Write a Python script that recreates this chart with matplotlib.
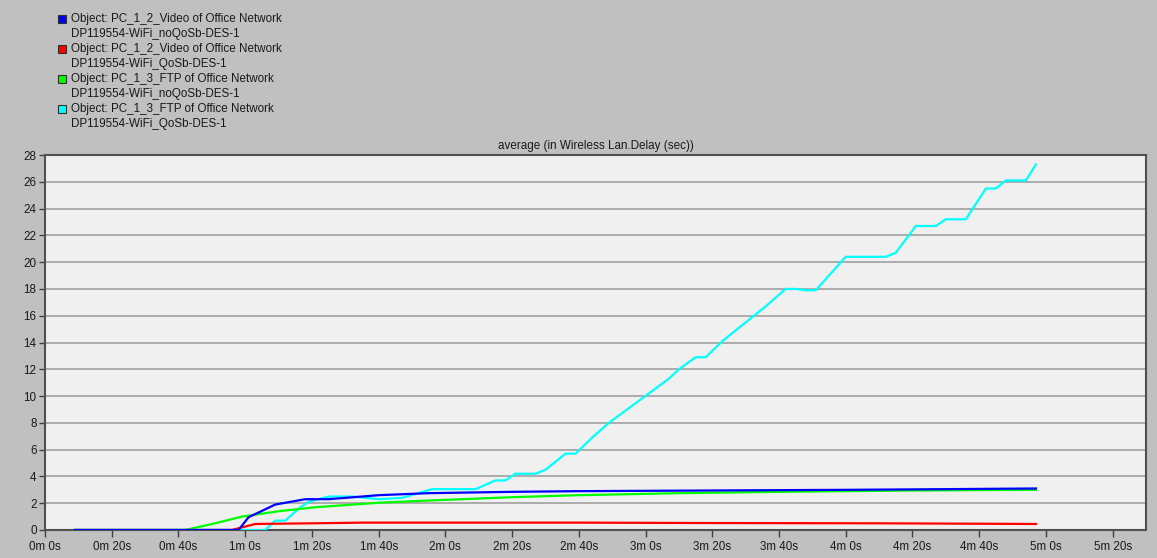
import matplotlib
matplotlib.use("Agg")
import matplotlib.pyplot as plt
from matplotlib.patches import Rectangle

plt.rcParams['font.family'] = ['Liberation Sans', 'DejaVu Sans']

# ---- data (time in seconds, delay in seconds) ----
video_noqos_t = [9, 58, 61, 69, 78, 85, 100, 115, 140, 160, 200, 240, 270, 297]
video_noqos_v = [0, 0, 0.95, 1.9, 2.3, 2.3, 2.6, 2.75, 2.85, 2.9, 2.95, 3.0, 3.05, 3.1]

video_qos_t = [9, 56, 63, 80, 95, 130, 160, 200, 250, 297]
video_qos_v = [0, 0, 0.45, 0.5, 0.55, 0.55, 0.55, 0.52, 0.5, 0.45]

ftp_noqos_t = [9, 42, 51, 59, 70, 81, 101, 115, 140, 160, 190, 220, 260, 297]
ftp_noqos_v = [0, 0, 0.5, 1.0, 1.4, 1.7, 2.05, 2.2, 2.45, 2.6, 2.75, 2.85, 2.95, 3.0]

ftp_qos_t = [9, 66, 69, 72, 76, 79, 85, 92, 100, 107, 116, 129, 135, 138, 141, 147,
             150, 156, 159, 164, 169, 187, 190, 195, 198, 203, 213, 216, 222, 225,
             228, 231, 240, 252, 255, 261, 267, 270, 276, 282, 285, 288, 294, 297]
ftp_qos_v = [0, 0, 0.7, 0.7, 1.6, 2.1, 2.5, 2.5, 2.3, 2.4, 3.05, 3.05, 3.7, 3.7, 4.2, 4.2,
             4.5, 5.7, 5.7, 6.9, 8.0, 11.3, 12.0, 12.9, 12.9, 14.1, 16.1, 16.7, 18.0, 18.0,
             17.9, 17.9, 20.4, 20.4, 20.7, 22.7, 22.7, 23.2, 23.2, 25.5, 25.5, 26.1, 26.1, 27.3]

legend_labels = [
    ("Object: PC_1_2_Video of Office Network", "DP119554-WiFi_noQoSb-DES-1"),
    ("Object: PC_1_2_Video of Office Network", "DP119554-WiFi_QoSb-DES-1"),
    ("Object: PC_1_3_FTP of Office Network", "DP119554-WiFi_noQoSb-DES-1"),
    ("Object: PC_1_3_FTP of Office Network", "DP119554-WiFi_QoSb-DES-1"),
]
colors = ["#0000ff", "#ff0000", "#00ff00", "#00ffff"]

x_ticks = list(range(0, 321, 20))
x_tick_labels = [f"{t // 60}m {t % 60}s" for t in x_ticks]
y_ticks = list(range(0, 29, 2))
title = "average (in Wireless Lan.Delay (sec))"

FS = 8.4
TXT = "#1a1a1a"

# ---- figure ----
W, H = 1157, 558
fig = plt.figure(figsize=(W / 100, H / 100), dpi=100, facecolor="#c0c0c0")
left, right, top, bottom = 45, 1146, 155, 530
ax = fig.add_axes([left / W, 1 - bottom / H, (right - left) / W, (bottom - top) / H])
ax.set_facecolor("#f0f0f0")

series = [(video_noqos_t, video_noqos_v), (video_qos_t, video_qos_v),
          (ftp_noqos_t, ftp_noqos_v), (ftp_qos_t, ftp_qos_v)]
# draw order: cyan first, then green, red, blue on top
for idx in [3, 2, 1, 0]:
    t, v = series[idx]
    ax.plot(t, v, color=colors[idx], lw=1.6, solid_joinstyle="miter", zorder=3)

ax.set_xlim(0, 330)
ax.set_ylim(0, 28)
ax.set_xticks(x_ticks)
ax.set_xticklabels(x_tick_labels, fontsize=FS, color=TXT)
ax.set_yticks(y_ticks)
ax.set_yticklabels([str(y) for y in y_ticks], fontsize=FS, color=TXT)
ax.tick_params(axis="x", direction="out", length=5, width=1, color="#404040", pad=3)
ax.tick_params(axis="y", direction="out", length=4, width=1, color="#404040", pad=2)
ax.yaxis.grid(True, color="#a0a0a0", lw=1.2)
ax.set_axisbelow(True)
for s in ax.spines.values():
    s.set_color("#505050")
    s.set_linewidth(1.5)

fig.text((left + right) / 2 / W, 1 - 146 / H, title, ha="center", va="center",
         fontsize=FS, color=TXT)

# legend
row_h = 15
for i, ((l1, l2), c) in enumerate(zip(legend_labels, colors)):
    y1 = 19 + 2 * i * row_h
    y2 = y1 + row_h
    fig.add_artist(Rectangle((58 / W, 1 - (y1 + 4) / H), 8 / W, 8 / H,
                             transform=fig.transFigure, facecolor=c,
                             edgecolor="#303030", lw=0.8))
    fig.text(71 / W, 1 - y1 / H, l1, ha="left", va="center", fontsize=FS, color=TXT)
    fig.text(71 / W, 1 - y2 / H, l2, ha="left", va="center", fontsize=FS, color=TXT)

fig.savefig("out.png", dpi=100, facecolor=fig.get_facecolor())
